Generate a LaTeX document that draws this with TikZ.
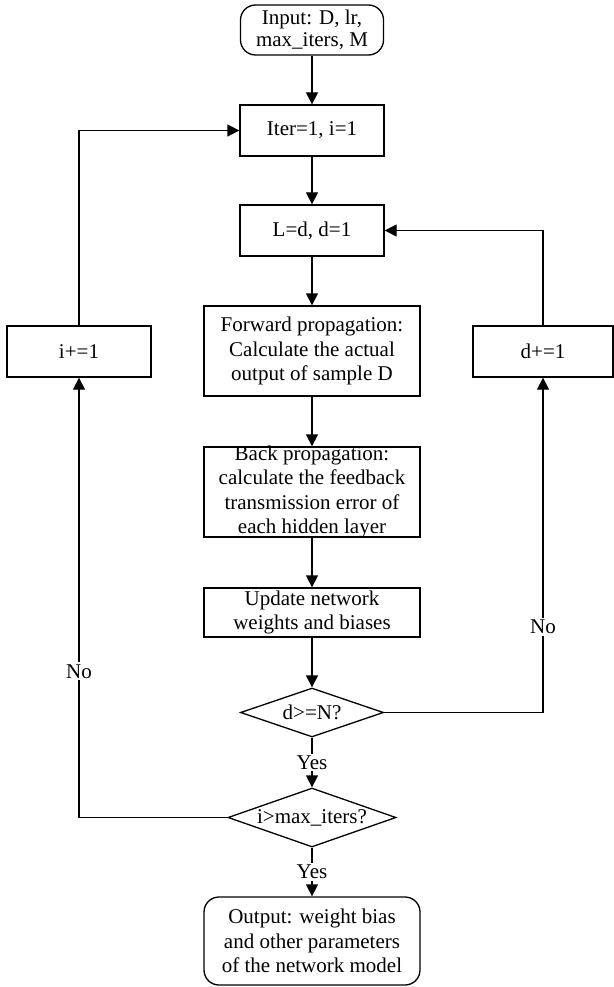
\documentclass[tikz,border=0pt]{standalone}
\usepackage{fontspec}
\setmainfont{Liberation Serif}
\usetikzlibrary{shapes.geometric,arrows.meta}
\begin{document}
\begin{tikzpicture}[x=1pt,y=-1pt,
  every node/.style={font=\fontsize{21}{24.5}\selectfont},
  line/.style={line width=1.3pt},
  arr/.style={line, -{Triangle[length=12pt,width=12pt]}},
  box/.style={draw,line width=1.3pt,rectangle,inner sep=0pt,align=center},
  rbox/.style={box,rounded corners=15pt},
  dia/.style={draw,line width=1.3pt,diamond,inner sep=0pt},
  lbl/.style={fill=white,inner sep=2pt}]
\useasboundingbox (0,0) rectangle (613,987);
% main column
\node[rbox,minimum width=143pt,minimum height=50pt,font=\fontsize{21}{22}\selectfont] (input) at (312,30) {Input: D, lr,\\max\_iters, M};
\node[box,minimum width=144pt,minimum height=51pt] (iter) at (312,130.5) {Iter=1, i=1};
\node[box,minimum width=144pt,minimum height=51pt] (ld) at (312,230.5) {L=d, d=1};
\node[box,minimum width=216pt,minimum height=90pt] (fwd) at (312,351) {Forward propagation:\\Calculate the actual\\output of sample D};
\node[box,minimum width=216pt,minimum height=90pt] (back) at (312,492) {};
\node[align=center,inner sep=0pt] (backtxt) at (back.center) {Back propagation:\\calculate the feedback\\transmission error of\\each hidden layer};
\node[box,minimum width=216pt,minimum height=49pt] (upd) at (312,612.5) {Update network\\weights and biases};
\node[dia,minimum width=143pt,minimum height=49pt] (d1) at (312,712.5) {};
\node[inner sep=0pt] (d1txt) at (d1.center) {d>=N?};
\node[dia,minimum width=168pt,minimum height=59pt] (d2) at (312,817.5) {};
\node[inner sep=0pt] (d2txt) at (d2.center) {i>max\_iters?};
\node[rbox,minimum width=216pt,minimum height=88pt] (out) at (312,941) {Output: weight bias\\and other parameters\\of the network model};
% side boxes
\node[box,minimum width=144pt,minimum height=51pt] (iplus) at (79,351.5) {i+=1};
\node[box,minimum width=140pt,minimum height=51pt] (dplus) at (543,351.5) {d+=1};
% connectors
\draw[arr] (input) -- (iter);
\draw[arr] (iter) -- (ld);
\draw[arr] (ld) -- (fwd);
\draw[arr] (fwd) -- (back);
\draw[arr] (back) -- (upd);
\draw[arr] (upd) -- (d1);
\draw[arr] (d1) -- node[lbl] (yes1) {Yes} (d2);
\draw[arr] (d2) -- node[lbl] (yes2) {Yes} (out);
\draw[arr] (d1.east) -| node[lbl,pos=0.628] (no1) {No} (dplus.south);
\draw[arr] (dplus.north) |- (ld.east);
\draw[arr] (d2.west) -| node[lbl,pos=0.666] (no2) {No} (iplus.south);
\draw[arr] (iplus.north) |- (iter.west);
\end{tikzpicture}
\end{document}
